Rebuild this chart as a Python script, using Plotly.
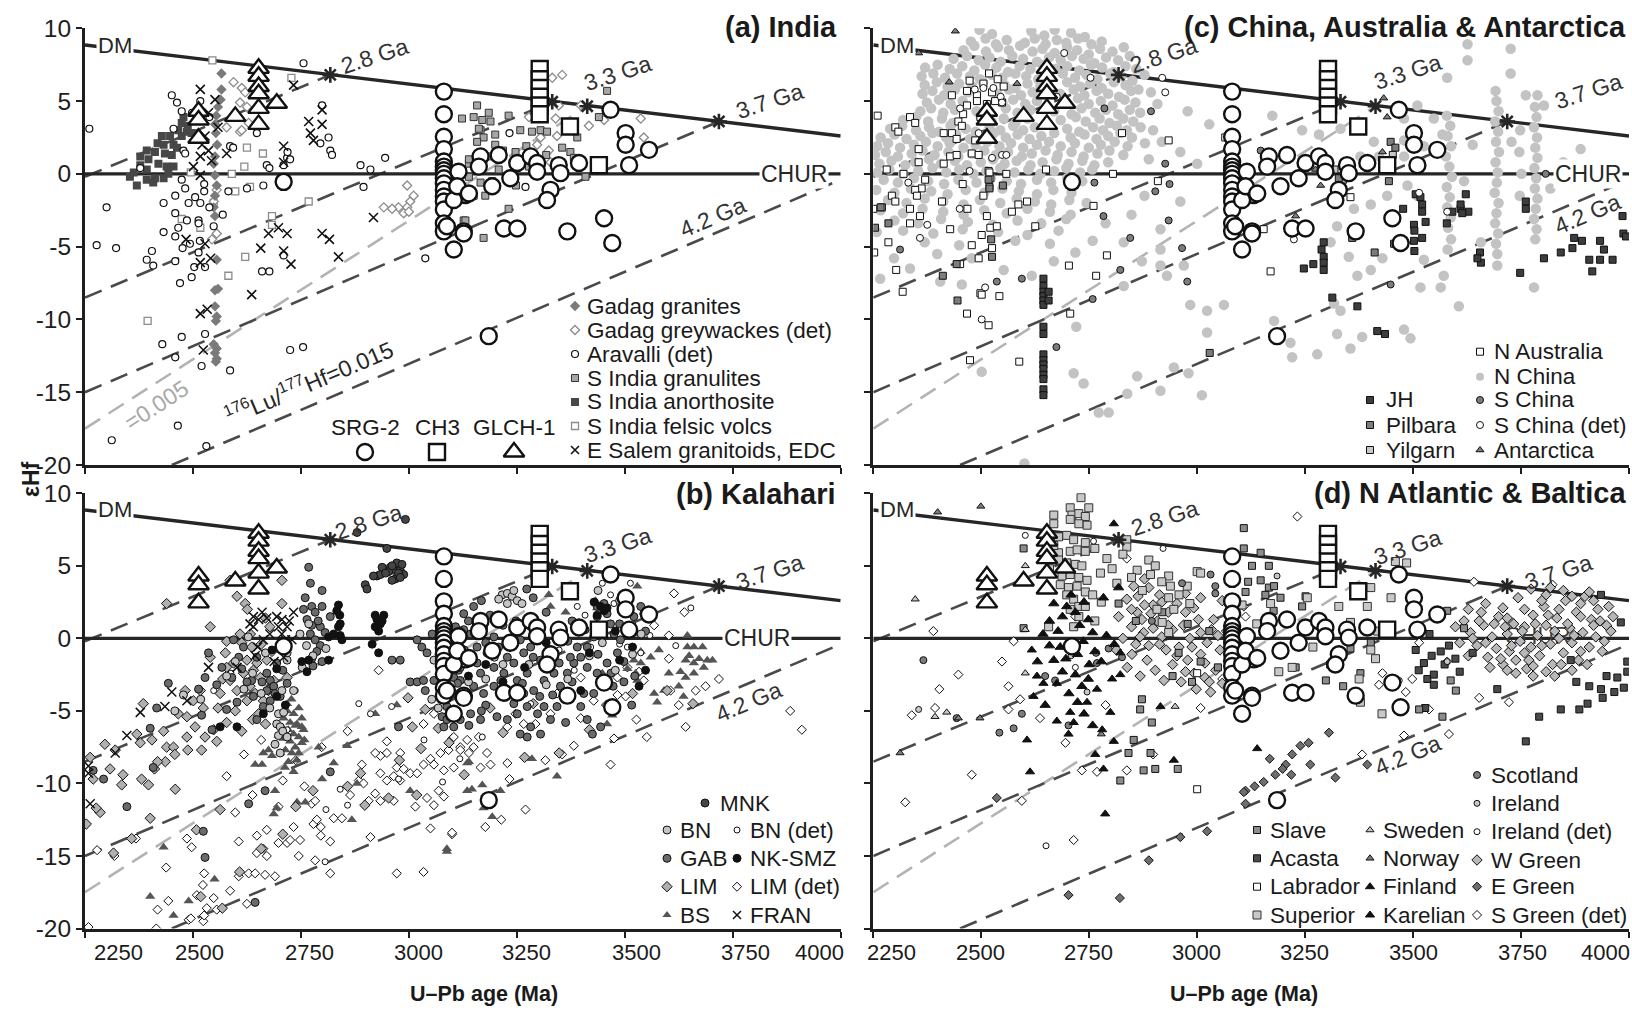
import plotly.graph_objects as go

W, H = 1632, 1012
FONT = "Liberation Sans, Arial, Helvetica, sans-serif"
NARROW = "Liberation Sans Narrow, Arial Narrow, Liberation Sans, Arial, sans-serif"
INK = "#1e1e1e"

# ---------------- axes / ticks ----------------
X_RANGE = [2232, 3982]
Y_RANGE = [-20, 10]
x_tick_vals = [2232, 2482, 2732, 2982, 3232, 3482, 3732, 3982]
x_tick_text = ["2250", "2500", "2750", "3000", "3250", "3500", "3750", "4000"]
x_label_pos_b = [2309, 2498, 2751, 3004, 3255, 3509, 3762, 3932]
x_label_pos_d = [2275, 2481, 2731, 2981, 3231, 3483, 3735, 3928]
y_tick_vals = [-20, -15, -10, -5, 0, 5, 10]
y_tick_text = ["-20", "-15", "-10", "-5", "0", "5", "10"]

# ---------------- reference evolution lines (age Ma, eHf) ----------------
dm_line = [(2232, 8.85), (3982, 2.6)]
chur_line = [(2232, 0.0), (3982, 0.0)]
crust_lines = {
    "2.8 Ga": [(2232, -0.2), (2800, 6.8)],
    "3.3 Ga": [(2232, -8.5), (3314, 4.95)],
    "3.7 Ga": [(2232, -15.0), (3700, 3.6)],
    "4.2 Ga": [(2433, -20.0), (3982, -0.4)],
}
low_luhf_line = [(2232, -17.5), (3395, 4.65)]
model_age_marks = [(2800, 6.8), (3314, 4.95), (3395, 4.65), (3700, 3.6)]

# ---------------- reference zircons (all panels) ----------------
srg2 = [(3063,5.65),(3063,4.1),(3063,2.55),(3063,1.7),(3063,0.85),(3063,0.5),(3063,0.25),(3063,0.0),
        (3063,-0.3),(3063,-0.65),(3063,-1.1),(3063,-1.55),(3063,-1.9),(3063,-2.45),(3063,-3.4),(3063,-3.95),
        (3097,0.15),(3113,-1.45),(3086,-5.2),(3109,-3.95),(3086,-1.8),(2692,-0.55),(3148,1.2),(3144,0.5),
        (3094,-0.85),(3121,-1.35),(3175,-0.85),(3190,1.3),(3233,0.75),(3217,-0.3),(3264,1.2),(3279,0.75),
        (3279,0.15),(3310,-1.1),(3302,-1.8),(3329,0.6),(3333,0.05),(3376,0.75),(3449,4.4),(3484,2.8),
        (3484,2.0),(3538,1.65),(3492,0.6),(3202,-3.75),(3233,-3.75),(3349,-3.95),(3434,-3.05),(3453,-4.75),
        (3109,-4.1),(3070,-3.6),(3167,-11.15)]
ch3 = [(3285,7.2),(3285,6.5),(3285,5.9),(3285,5.3),(3285,4.7),(3285,4.1),(3355,3.25),(3422,0.6)]
glch1 = [(2634,7.25),(2634,6.7),(2634,6.0),(2634,5.5),(2634,4.5),(2634,3.4),(2495,4.3),(2495,3.7),
         (2495,2.45),(2580,3.95),(2676,4.85)]

# ---------------- (a) India ----------------
gadag_granites = [(2548,6.9),(2548,5.8),(2546,5.1),(2540,4.6),(2536,4.0),(2533,3.4),(2535,2.8),(2538,2.0),
    (2533,1.2),(2530,0.7),(2533,-0.1),(2537,-0.8),(2533,-1.5),(2530,-2.3),(2533,-2.9),(2537,-5.9),(2533,-8.0),
    (2533,-9.1),(2537,-9.8),(2535,-10.1),(2537,-12.0),(2533,-12.3),(2537,-12.7),(2535,-12.9),(2530,-11.7),(2540,-7.9)]
gadag_greywackes = [(2576,6.3),(2595,5.9),(2603,5.6),(2591,4.9),(2607,4.6),(2611,3.5),(2591,2.9),(2537,-1.1),
    (2530,-1.9),(2537,-4.1),(2526,-4.5),(2978,-0.8),(2993,-1.5),(2985,-1.9),(2978,-2.3),(2958,-2.3),(2943,-2.4),
    (2924,-2.3),(2970,-2.7),(2982,-2.6),(3314,6.6),(3337,6.8),(3322,3.8),(3329,4.7),(3380,4.7),(3399,3.3),
    (3434,3.7),(3519,3.8),(3526,2.5),(3306,1.6),(3325,2.6),(3279,2.0),(3287,2.5),(3310,0.8),(3260,3.9),
    (2560,3.2),(2595,3.0)]
aravalli = [(2242,3.1),(2433,5.4),(2445,4.9),(2456,4.3),(2437,3.1),(2460,1.6),(2464,1.4),(2499,5.0),(2360,0.4),
    (2456,-0.4),(2464,-1.0),(2441,-1.5),(2414,-2.0),(2282,-2.3),(2472,-2.0),(2487,-1.6),(2499,-2.0),(2508,-1.2),
    (2508,-0.7),(2468,-3.2),(2495,-3.2),(2495,-3.4),(2441,-2.7),(2414,-4.0),(2441,-4.3),(2448,-3.7),(2458,-5.1),
    (2475,-4.8),(2495,-5.4),(2441,-6.0),(2387,-5.3),(2375,-5.9),(2390,-6.3),(2259,-4.9),(2304,-5.1),(2485,-6.4),
    (2510,-6.4),(2479,-7.1),(2452,-7.5),(2564,-1.2),(2551,-2.8),(2607,-1.0),(2645,-0.8),(2568,1.9),(2653,0.6),
    (2659,0.4),(2692,0.6),(2700,1.1),(2707,1.0),(2701,1.5),(2738,7.6),(2781,4.7),(2796,2.5),(2777,2.1),(2800,1.6),
    (2804,1.3),(2870,0.6),(2893,0.3),(2927,1.1),(2877,-0.9),(3020,-5.8),(2510,-11.0),(2456,-11.2),(2411,-11.7),
    (2441,-12.6),(2502,-13.2),(2568,-13.5),(2707,-12.1),(2737,-11.9),(2447,-17.3),(2294,-18.3),(2513,-18.7),
    (2642,-6.7),(2659,-6.7),(2692,-5.6),(2630,2.8),(3215,2.8),(3252,-0.9),(2480,4.2),(2520,3.9),(2575,1.8),
    (2498,-4.6),(2520,-2.3),(2530,-3.6)]
s_india_granulites = [(3105,3.8),(3140,4.7),(3132,3.9),(3152,3.7),(3167,4.2),(3171,3.6),(3148,3.0),(3182,2.7),
    (3155,2.5),(3182,2.0),(3213,4.0),(3240,3.0),(3267,2.9),(3287,3.0),(3302,2.9),(3229,1.5),(3254,1.9),(3337,1.8),
    (3356,1.5),(3372,2.5),(3364,1.1),(3441,5.7),(3422,3.9),(3391,-0.2),(3121,0.7),(3121,-0.2),(3148,-0.6),
    (3159,-1.5),(3132,-1.5),(3213,-2.4),(3109,-3.2),(3155,-4.4),(3144,3.1),(3167,1.2),(3121,1.0),(3117,-1.7),
    (3113,-3.2),(3190,0.3),(3200,1.6),(3140,2.2),(3175,-0.5),(3260,0.5),(3300,1.3),(3230,-0.8)]
s_india_anorthosite = [(2456,3.5),(2448,3.0),(2429,2.6),(2410,2.6),(2456,2.6),(2414,2.0),(2437,2.0),(2394,1.5),
    (2375,1.6),(2417,1.4),(2433,1.3),(2360,1.2),(2379,1.0),(2402,0.7),(2421,0.5),(2437,0.5),(2336,-0.2),
    (2352,-0.8),(2375,-0.4),(2394,-0.3),(2414,-0.3),(2375,0.3),(2468,2.9),(2479,2.8),(2360,0.6),(2345,0.1),
    (2400,2.1),(2445,1.8),(2425,0.0),(2390,-0.6),(2460,3.9),(2470,3.3)]
s_india_felsic = [(2527,7.8),(2710,6.6),(2607,1.8),(2644,1.4),(2601,0.5),(2572,0.0),(2477,0.1),(2580,-1.2),
    (2614,-0.9),(2750,-1.9),(2456,-3.1),(2499,-3.7),(2530,-2.0),(2665,-2.9),(2665,-3.5),(2603,-5.7),(2564,-7.0),
    (2377,-10.1)]
e_salem = [(2499,5.8),(2533,5.1),(2518,4.2),(2510,2.6),(2503,2.0),(2518,1.6),(2560,1.4),(2499,1.2),(2483,0.5),
    (2499,-0.1),(2692,1.9),(2715,6.1),(2750,3.6),(2754,2.8),(2761,2.3),(2781,4.4),(2781,3.4),(2692,0.8),
    (2639,-5.1),(2657,-4.1),(2680,-3.7),(2700,-4.1),(2692,-5.3),(2709,-6.2),(2781,-4.1),(2798,-4.5),(2819,-5.7),
    (2900,-3.0),(2618,-8.3),(2499,-9.6),(2515,-9.3),(2506,-12.1),(2510,-4.8),(2499,-6.1),(2523,-5.8),(2466,-4.5),
    (2525,0.9),(2540,3.2)]

# ---------------- (b) Kalahari ----------------
mnk = [(2862,7.3),(2974,8.2),(2931,6.2),(2908,4.3),(2916,4.4),(2920,4.9),(2939,4.9),(2947,4.7),(2954,5.2),
    (2962,4.7),(2966,5.1),(2970,4.4),(2951,4.1),(2943,4.0),(2935,4.6),(2958,4.5),(2928,4.5),(2881,3.7),
    (2885,3.4),(2900,4.3),(2943,5.0),(2962,4.2)]
bn = [(2688,-3.6),(2680,-5.2),(2676,-5.9),(2684,-6.1),(2684,-7.9),(2692,-5.1),(2715,-3.6),(2680,-6.7),
    (2690,-6.4),(2700,-6.8),(2672,-7.3),(2660,-4.8),(2640,-3.8),(2620,-2.4),(2600,-3.5),(2580,-1.6),(2560,-2.6),
    (2650,-1.0),(2610,0.1),(2700,-1.5),(2735,-2.0),(2745,-0.5),(2760,-1.2),(2790,-0.7),(2750,1.0),(2730,0.3),
    (3198,3.0),(3210,3.1),(3221,2.9),(3233,2.6),(3210,2.4),(3244,2.4),(3190,2.7),(3225,3.3),(3040,-1.5),
    (3055,-2.3),(3080,-3.2),(3120,-3.0),(3160,-2.8),(3200,-1.8),(3260,-1.8),(3300,-3.2),(3350,-2.8),(3400,-1.2),
    (3430,-0.3),(3460,-2.2),(3500,-1.1),(3520,0.3),(3470,2.6),(3420,3.3),(3380,0.7),(3320,0.5),(3290,0.0),
    (3180,-1.3),(3140,0.3),(3100,0.5),(3070,-0.6),(3035,-4.2),(3050,-4.8),(2460,-3.9),(2440,-5.0),(2500,-4.2),
    (2700,-1.0)]
bn_det = [(3430,3.8),(3495,3.8),(3372,2.2),(3449,3.0),(3457,2.4),(3635,2.1),(3488,-0.6),(3519,-1.0),(3403,-0.6),
    (3264,-4.5),(3152,-6.8),(2823,-10.4),(2788,-15.4),(2719,-3.6),(2866,-4.5),(2893,-5.2),(2958,-9.7),(2942,-4.7),
    (3017,-7.0),(3100,-8.3),(3060,-9.9),(2840,-11.5),(2790,-11.8),(2700,-6.3),(2570,-2.4),(2530,-3.6),(3500,1.0),
    (3540,0.2),(3470,-0.4),(3330,-0.8),(3390,1.6),(3600,-0.5),(3365,-2.2)]
gab = [(2750,4.9),(2754,3.8),(2781,3.3),(2742,2.8),(2757,2.2),(2765,1.8),(2781,2.2),(2746,1.3),(2757,0.9),
    (2777,0.8),(2754,0.3),(2765,-0.1),(2777,-0.5),(2769,-0.9),(2757,-1.4),(2781,-1.6),(2800,1.5),(2738,2.0),
    (2772,1.2),(2788,0.4),(2760,-1.9),(2943,-1.5),(2962,-1.5),(3001,-0.1),(3012,-0.6),(2985,-3.0),(3001,-3.0),
    (3016,-2.9),(3020,-3.6),(3040,-2.9),(3070,-2.9),(3086,-2.7),(3059,-5.4),(3070,-4.7),(3063,-6.1),(3086,-6.1),
    (3101,-5.6),(3121,-6.0),(3101,-2.9),(3097,-2.2),(3090,0.8),(3109,0.6),(3036,0.3),(3024,-1.0),(2958,-6.1),
    (2800,-9.2),(2649,-10.5),(2611,-11.4),(2506,-13.3),(2510,-15.1),(2626,-18.2),(2398,-4.8),(2425,-3.1),
    (2383,-6.2),(2390,-8.9),(2329,-11.6),(2275,-9.7),(2251,-9.1),(2518,-1.0),(2510,-2.7),(2495,-3.5),(2502,-5.3),
    (2526,-6.3),(2576,-0.1),(2588,-1.3),(2595,-2.1),(2618,-2.9),(2642,-3.0),(2653,-2.4),(2661,-2.9),(2669,-3.3),
    (2653,-3.6),(2672,-3.8),(2661,-4.3),(2645,-4.7),(2684,-4.0),(2630,-1.3),(2599,-0.6),(2676,-1.7),(2572,-2.7),
    (2549,-2.0),(2630,-5.6),(2607,-3.0),(2622,-4.0),(2584,-4.4),(2560,-4.9),(2537,-3.2),(2690,-2.2),(2700,-3.1),
    (3132,2.2),(3109,1.7),(3125,0.3),(3155,0.7),(3179,0.1),(3140,-0.6),(3163,-1.0),(3190,-0.6),(3210,-1.3),
    (3125,-1.5),(3101,-2.0),(3148,-2.4),(3179,-2.0),(3202,-2.4),(3225,-1.7),(3248,-1.0),(3264,-0.6),(3240,-0.1),
    (3233,-2.9),(3256,-2.4),(3287,-1.5),(3302,-1.0),(3318,-2.4),(3295,-2.9),(3271,-3.6),(3248,-3.8),(3210,-3.8),
    (3179,-3.3),(3155,-3.8),(3132,-3.3),(3109,-4.3),(3086,-3.8),(3094,-5.2),(3070,-5.6),(3125,-5.2),(3148,-5.6),
    (3186,-5.4),(3210,-5.6),(3233,-5.2),(3256,-4.7),(3264,-6.1),(3240,-6.6),(3295,-4.7),(3333,-3.3),(3349,-2.4),
    (3364,-1.7),(3380,-1.3),(3395,-0.6),(3410,0.1),(3426,0.8),(3418,1.5),(3441,1.7),(3449,1.0),(3457,0.3),
    (3418,2.2),(3434,2.4),(3372,-0.6),(3356,-1.3),(3395,-2.0),(3418,-2.4),(3441,-1.7),(3465,-1.0),(3472,-0.1),
    (3488,0.8),(3503,1.5),(3519,2.2),(3526,1.7),(3410,-3.8),(3387,-3.8),(3380,-4.7),(3325,-4.7),(3310,-5.6),
    (3287,-6.6),(3256,-6.8),(3426,-6.1),(3407,-6.6),(3395,-5.6),(3498,-4.6),(3480,-3.0),(3455,-3.3),(3340,0.5),
    (3360,1.2),(3300,1.8),(3270,2.8),(3255,3.4),(3230,1.2),(3200,0.9),(3170,1.6),(3150,2.6),(3110,-0.8),
    (3085,-1.5),(3330,-1.7),(3345,-5.8),(3280,-5.2),(3225,-4.5),(3160,-4.6),(3120,-4.0),(3140,-1.7),(3195,-2.9),
    (3245,-3.1),(3285,-4.0),(3315,-3.9),(3360,-3.0),(3420,-1.1),(3450,-2.4),(3480,-1.6),(3505,-2.6),(3530,0.5),
    (3470,1.0),(3390,0.6),(3350,-0.2),(3270,-1.3),(3215,-0.4),(3160,-0.3),(3120,1.2),(3095,-3.1),(3150,-5.0)]
nk_smz = [(2819,2.3),(2822,1.6),(2823,1.0),(2819,0.8),(2823,0.2),(2827,-0.1),(2796,0.1),(2808,0.3),(2904,1.6),
    (2908,1.3),(2916,1.0),(2924,1.6),(2904,0.8),(2912,0.5),(2897,-0.4),(2912,-1.0),(2796,-1.5),(2746,-2.3),
    (2734,-1.6),(2665,-0.8),(2676,-2.1),(2645,-5.2),(2584,-6.1),(2545,-6.1),(2750,-1.5),(2815,1.9),(2920,1.2),
    (3426,2.2),(3434,1.9),(3441,2.1),(3515,-3.3),(3418,1.6),(3411,2.5),(2676,-4.0),(2696,-4.6),(3400,-1.0),
    (3440,-3.0),(3470,-1.5),(3380,-3.6),(3300,-0.3),(3250,-2.0),(3160,-1.8),(3120,-2.6),(3080,-1.0),(3200,-3.0),
    (3350,-4.0),(3460,0.5),(3500,-0.6),(3530,-2.2)]
lim = [(2244,-8.2),(2251,-9.7),(2267,-12.0),(2278,-7.3),(2302,-7.7),(2298,-14.8),(2317,-10.1),(2340,-13.8),
    (2352,-6.6),(2363,-9.7),(2367,-4.5),(2379,-10.1),(2383,-12.4),(2387,-7.0),(2393,-9.0),(2414,-6.4),(2418,-8.5),
    (2421,-7.5),(2437,-7.5),(2441,-10.4),(2448,-5.2),(2464,-3.6),(2468,-5.4),(2468,-6.8),(2483,-4.3),(2487,-6.1),
    (2499,-3.6),(2502,-7.7),(2506,-4.8),(2522,0.8),(2522,-1.3),(2530,-6.3),(2537,-7.1),(2545,-3.8),(2545,-11.8),
    (2551,-2.8),(2557,-1.0),(2560,-2.0),(2568,-2.9),(2576,-1.7),(2584,2.9),(2584,-3.6),(2591,0.3),(2599,-2.4),
    (2603,2.4),(2607,-1.5),(2607,-4.3),(2614,-3.3),(2618,-0.6),(2622,-2.2),(2626,-3.8),(2630,-1.7),(2634,-5.2),
    (2638,-2.7),(2645,-4.3),(2653,-1.5),(2657,-3.6),(2669,-2.9),(2688,4.0),(2688,2.4),(2700,-2.7),(2568,4.0),
    (2421,2.4),(2560,-0.2),(2595,-0.3),(2615,0.3),(2640,-0.4),(2665,-0.9),(2580,-5.0),(2620,-5.6),(2650,-5.9),
    (2595,-6.4),(2560,-5.8),(2540,-4.8),(2510,-6.8),(2470,-7.7),(2440,-8.0),(2400,-8.5),(2360,-7.2),(2320,-9.4),
    (2290,-9.0),(2258,-11.7),(2235,-12.8),(2490,-13.2),(2500,-17.8),(2550,-18.6),(2590,-16.1),(2640,-14.5),
    (2690,-13.5),(2720,-11.6),(2760,-10.5),(2840,-10.2),(2870,-9.3),(2960,-8.4),(3010,-7.6),(3050,-6.2),
    (3000,-10.8),(2935,-11.0),(2880,-11.5),(2980,-4.1),(2990,-6.1),(3020,-4.9),(3075,-7.2),(3110,-9.4),
    (3270,-4.5),(3330,-7.9),(3440,-4.6),(3400,-6.3),(3500,-3.8),(3580,-3.6),(3640,-4.5),(3250,-8.2),(3200,-6.5),
    (3170,-4.8),(2608,2.0),(2650,1.4),(2660,0.8)]
lim_det = [(2240,-19.9),(2397,-20.0),(2400,-18.7),(2425,-18.1),(2472,-19.4),(2477,-19.3),(2506,-19.5),
    (2508,-19.1),(2514,-18.6),(2491,-17.7),(2505,-17.0),(2508,-16.2),(2479,-14.4),(2468,-13.8),(2530,-17.9),
    (2537,-18.7),(2588,-14.0),(2568,-17.4),(2588,-16.4),(2607,-18.3),(2611,-16.2),(2626,-16.2),(2649,-16.3),
    (2672,-16.4),(2630,-13.6),(2653,-13.2),(2653,-15.0),(2645,-14.5),(2630,-14.8),(2680,-14.1),(2700,-14.1),
    (2715,-13.0),(2727,-15.0),(2730,-13.9),(2707,-13.9),(2757,-11.4),(2765,-11.2),(2761,-12.8),(2769,-12.5),
    (2778,-13.0),(2778,-13.6),(2800,-14.0),(2800,-16.2),(2765,-15.3),(2808,-12.4),(2827,-12.4),(2846,-10.8),
    (2866,-9.8),(2873,-8.7),(2877,-10.0),(2889,-11.2),(2893,-13.7),(2904,-10.7),(2916,-9.3),(2916,-11.2),
    (2931,-9.8),(2947,-9.5),(2947,-11.2),(2954,-8.9),(2962,-7.9),(2962,-9.8),(2970,-9.0),(2985,-9.3),
    (2954,-16.2),(3016,-16.1),(2997,-11.6),(3024,-11.0),(3032,-13.1),(3082,-13.5),(3040,-11.5),(3051,-10.5),
    (3063,-10.9),(3001,-9.3),(3016,-8.7),(3032,-8.3),(3040,-8.7),(3055,-7.9),(3063,-9.1),(3074,-7.7),
    (3082,-6.9),(3117,-7.0),(3101,-7.5),(2931,-7.9),(2931,-7.1),(2916,-8.1),(2904,-7.9),(3016,-5.9),
    (3040,-5.2),(2912,-2.2),(3596,3.1),(3584,0.2),(3584,-1.4),(3588,-3.6),(3607,-4.6),(3623,-6.1),(3669,-3.3),
    (3646,-3.6),(3865,-5.0),(3892,-6.3),(3533,-6.8),(3509,-5.6),(3449,-8.7),(3457,-6.9),(3364,-7.4),
    (3337,-8.0),(3298,-8.4),(3252,-11.8),(3215,-9.7),(3196,-12.5),(3159,-13.0),(3082,-13.4),(3210,-8.6),
    (3148,-8.9),(3171,-8.7),(3163,-7.9),(3132,-7.5),(3144,-6.8),(3121,-7.9),(3086,-6.8),(3086,-8.9),
    (3101,-7.7),(3210,-6.1),(3248,-5.9),(3229,-5.2),(3275,-5.9),(3310,-5.2),(3325,-3.8),(3380,-5.5),
    (3410,-4.3),(3465,-3.9),(3484,-4.0),(3380,-2.7),(3465,-2.7),(3488,-2.0),(3515,-2.3),(3526,-2.9),
    (2560,-9.5),(2600,-8.0),(2640,-7.0),(2690,-9.8),(2720,-8.4),(2780,-7.5),(2840,-6.4),(2350,-13.8),
    (2300,-15.0),(2260,-14.6),(2420,-15.8),(2580,-12.0),(2620,-10.8),(2680,-11.6),(2740,-10.2),(3550,0.9),
    (3620,1.8),(3700,-2.8)]
bs = [(2414,-14.4),(2383,-17.8),(2437,-19.1),(2472,-18.1),(2532,-16.6),(2645,-7.9),(2626,-8.7),(2642,-8.7),
    (2672,-10.5),(2669,-12.1),(2676,-11.7),(2723,-11.3),(2742,-11.3),(2773,-7.5),(2781,-9.7),(2808,-8.6),
    (2839,-7.4),(2850,-12.5),(2862,-10.0),(2904,-5.2),(2985,-10.5),(3070,-14.5),(2954,-4.6),(3117,-8.6),
    (3117,-10.5),(2700,-5.0),(2715,-5.2),(2727,-4.8),(2692,-5.5),(2707,-5.8),(2723,-5.9),(2734,-6.1),
    (2688,-6.1),(2703,-6.3),(2715,-6.6),(2727,-6.8),(2692,-6.9),(2707,-7.1),(2719,-7.5),(2734,-7.2),
    (2696,-7.7),(2711,-7.9),(2727,-7.9),(2703,-8.5),(2715,-9.2),(2684,-7.9),(2734,-5.5),(2738,-6.3),
    (2680,-6.7),(2700,-4.5),(2719,-6.0),(2665,-8.1),(2657,-7.7),(2710,-4.2),(2695,-8.9),(2722,-8.4),
    (2740,-7.0),(3306,3.0),(3310,2.2),(3345,1.8),(3414,2.6),(3418,2.1),(3511,3.6),(3507,0.3),(3503,-1.5),
    (3507,-2.4),(3519,-1.7),(3542,-1.3),(3561,-0.8),(3550,-3.8),(3557,-4.4),(3573,-3.6),(3584,-2.4),
    (3607,-3.3),(3611,-2.3),(3623,-1.5),(3627,0.2),(3627,-0.6),(3631,-1.2),(3642,-0.6),(3642,-1.7),
    (3654,-1.4),(3662,-0.6),(3665,-2.0),(3673,-1.5),(3685,-1.5),(3623,-2.7),(3642,-2.4),(3618,-4.0),
    (3441,-5.9),(3267,-8.3),(3325,-9.5),(3453,-5.3),(3445,-4.5),(3430,-2.4),(3488,-2.1),(3511,-2.9),
    (3519,-0.9),(3121,-8.5),(3152,-10.1),(3128,-10.4),(3194,-10.5),(3175,-12.3),(3155,-11.7),(3070,-14.7)]
fran = [(2244,-11.4),(2302,-7.9),(2329,-6.7),(2360,-5.1),(2417,-4.7),(2433,-3.7),(2468,-4.3),(2518,-2.0),
    (2614,1.0),(2622,1.5),(2634,1.3),(2642,1.8),(2653,1.4),(2676,1.5),(2688,1.3),(2715,1.8),(2622,0.8),
    (2645,-0.1),(2680,0.8),(2700,0.8),(2688,0.3),(2696,-0.1),(2711,-0.1),(2692,-1.3),(2626,-1.2),(2584,-2.0),
    (2240,-8.8),(2240,-9.3),(2660,0.3),(2632,-0.6),(2705,1.2),(2670,-1.6)]

# ---------------- (c) China, Australia & Antarctica ----------------
jh = [(2626,-7.2),(2626,-7.7),(2626,-8.1),(2626,-8.4),(2626,-8.7),(2626,-9.0),(2626,-10.5),(2626,-11.0),
    (2626,-12.4),(2626,-12.8),(2626,-13.1),(2626,-13.4),(2626,-13.8),(2626,-14.1),(2626,-14.8),(2626,-15.2),
    (2638,-8.1),(2638,-8.7),(3275,-4.7),(3275,-5.7),(3275,-6.1),(3275,-6.6),(3229,-6.5),(3251,-6.2),(3295,-8.5),
    (3353,-9.1),(3399,-10.8),(3417,-11.0),(3488,-1.4),(3499,-1.6),(3503,-2.1),(3503,-2.6),(3484,-3.5),
    (3485,-3.9),(3503,-4.4),(3484,-4.6),(3485,-5.3),(3459,-2.4),(3511,-3.3),(3560,-3.4),(3573,-2.6),(3592,-2.4),
    (3604,-1.4),(3592,-2.1),(3610,-2.6),(3596,-2.7),(3637,-5.4),(3639,-6.1),(3631,-5.8),(3730,-6.8),(3743,-1.9),
    (3743,-2.4),(3785,-5.8),(3824,-5.4),(3855,-4.4),(3851,-5.1),(3873,-4.6),(3890,-5.9),(3897,-6.7),(3915,-4.6),
    (3915,-5.9),(3924,-5.2),(3944,-5.9),(3967,-2.9),(3969,-4.1),(3975,-4.3),(3270,-5.2)]
pilbara = [(2236,-3.7),(2267,-3.4),(2249,-2.3),(2393,-7.0),(2427,-8.7),(2507,-5.7),(2532,-0.8),(2499,-0.4),
    (2501,-1.0),(2425,-6.2),(3011,-12.3),(3430,2.2),(3441,1.8),(3426,-0.5),(3310,-0.3),(3341,-4.4),(3393,-5.4),
    (3438,-4.8),(2505,-4.5)]
yilgarn = [(3320,-0.4),(3300,0.3),(3435,1.3)]
n_australia = [(2242,4.0),(2283,3.2),(2290,2.9),(2317,3.9),(2329,3.5),(2337,1.7),(2337,0.8),(2263,0.3),(2302,0.0),
    (2352,-0.4),(2344,-1.0),(2329,-1.1),(2333,-1.5),(2275,-1.5),(2283,-1.9),(2232,-2.4),(2252,-2.3),(2317,-2.4),
    (2340,-2.9),(2317,-3.4),(2267,-4.7),(2234,-5.4),(2285,-6.6),(2300,-8.1),(2395,2.8),(2414,2.8),(2425,2.4),
    (2429,3.6),(2437,3.3),(2414,5.4),(2449,5.7),(2472,5.4),(2487,6.2),(2507,5.6),(2534,6.0),(2530,4.9),
    (2514,5.0),(2495,4.8),(2472,5.0),(2449,4.7),(2410,1.2),(2425,1.3),(2395,0.7),(2460,1.4),(2476,1.3),
    (2468,2.3),(2499,0.2),(2503,-0.3),(2501,-0.9),(2487,-1.5),(2439,-0.7),(2391,-1.9),(2450,-2.4),(2495,-2.9),
    (2410,-3.8),(2483,-4.2),(2503,-3.7),(2518,-3.6),(2460,-4.9),(2507,-5.1),(2476,-5.8),(2433,-6.2),(2480,-8.2),
    (2483,-8.3),(2524,-8.4),(2449,-9.6),(2499,-10.4),(2456,-12.8),(2570,-12.9),(2501,0.1),(2540,0.0),
    (2553,-2.6),(2568,-2.1),(2588,-1.9),(2607,-3.6),(2632,0.3),(2685,-6.3),(2688,-9.6),(2742,-2.2),(2773,-5.6),
    (2748,-7.0),(2787,0.0),(2808,2.8),(2891,-0.5),(2916,2.3),(3047,2.5),(3337,-1.6),(3136,-3.8),(3152,-6.7),
    (2455,6.4),(2500,6.9),(2520,6.5),(2440,4.1),(2480,3.9)]
n_china = [
    (2478,9.9),(2507,9.6),(2598,9.8),(2628,9.5),(2652,9.9),(2690,9.7),(2722,9.4),
    (2458,9.1),(2492,9.3),(2516,8.9),(2541,9.2),(2583,9.0),(2606,9.3),(2631,8.9),(2657,9.2),(2679,9.0),
    (2706,9.3),(2737,8.9),(2761,9.1),
    (2441,8.5),(2466,8.8),(2493,8.4),(2521,8.7),(2546,8.5),(2572,8.8),(2601,8.4),(2624,8.6),(2652,8.3),
    (2681,8.7),(2704,8.5),(2731,8.2),(2757,8.6),(2786,8.4),(2812,8.7),
    (2418,7.9),(2449,8.1),(2476,7.8),(2501,8.0),(2527,7.7),(2554,8.1),(2579,7.9),(2611,7.7),(2639,8.0),
    (2666,7.8),(2692,8.1),(2719,7.9),(2744,7.6),(2771,8.0),(2799,7.8),(2826,8.1),
    (2352,7.3),(2381,7.5),(2409,7.2),(2438,7.4),(2466,7.1),(2491,7.5),(2517,7.3),(2544,7.0),(2571,7.4),
    (2596,7.2),(2626,7.5),(2654,7.2),(2681,7.4),(2709,7.1),(2736,7.5),(2762,7.3),(2789,7.0),(2816,7.4),
    (2841,7.2),
    (2344,6.7),(2371,6.9),(2398,6.6),(2426,6.9),(2456,6.7),(2479,6.5),(2506,6.8),(2531,6.6),(2561,6.9),
    (2586,6.7),(2614,6.5),(2671,6.9),(2699,6.6),(2726,6.8),(2751,6.5),(2781,6.9),(2806,6.7),(2832,6.4),
    (2351,6.1),(2379,6.3),(2404,6.0),(2431,6.2),(2461,6.0),(2486,6.3),(2536,6.1),(2561,5.9),(2589,6.2),
    (2619,6.0),(2681,6.3),(2711,6.0),(2734,6.2),(2761,5.9),(2789,6.3),(2816,6.1),(2846,5.8),
    (2346,5.5),(2369,5.7),(2396,5.4),(2421,5.8),(2451,5.6),(2519,5.5),(2546,5.8),(2574,5.4),(2601,5.6),
    (2664,5.5),(2696,5.8),(2721,5.4),(2749,5.7),(2776,5.5),(2801,5.3),(2829,5.7),
    (2356,4.9),(2384,5.1),(2411,4.8),(2439,5.0),(2531,4.9),(2556,5.1),(2584,4.8),(2611,5.0),(2679,4.9),
    (2706,5.2),(2731,4.8),(2759,5.0),(2786,4.7),(2814,5.1),(2839,4.9),
    (2341,4.3),(2366,4.5),(2394,4.2),(2421,4.4),(2471,4.3),(2539,4.5),(2566,4.2),(2596,4.4),(2651,4.3),
    (2691,4.1),(2714,4.5),(2746,4.2),(2771,4.4),(2799,4.1),(2826,4.4),(2850,4.2),
    (2301,3.7),(2331,3.9),(2359,3.6),(2391,3.8),(2416,3.5),(2481,3.9),(2506,3.6),(2534,3.8),(2561,3.5),
    (2589,3.8),(2666,3.7),(2701,3.9),(2724,3.6),(2756,3.8),(2779,3.5),(2811,3.8),(2834,3.6),
    (2271,3.1),(2299,3.3),(2331,3.0),(2361,3.2),(2384,2.9),(2411,3.3),(2446,3.1),(2469,2.9),(2501,3.2),
    (2526,3.0),(2556,3.3),(2579,3.0),(2606,3.2),(2681,3.1),(2709,2.9),(2741,3.2),(2764,3.0),(2796,3.3),
    (2819,3.0),(2851,3.2),
    (2249,2.5),(2281,2.7),(2309,2.4),(2341,2.6),(2369,2.8),(2401,2.5),(2424,2.7),(2456,2.4),(2479,2.6),
    (2511,2.8),(2539,2.5),(2566,2.7),(2594,2.4),(2621,2.6),(2651,2.8),(2689,2.5),(2721,2.7),(2749,2.4),
    (2776,2.6),(2804,2.8),(2831,2.5),
    (2241,1.9),(2266,2.1),(2294,1.8),(2326,2.0),(2354,2.2),(2381,1.9),(2409,2.1),(2441,1.8),(2469,2.0),
    (2496,2.2),(2524,1.9),(2551,2.1),(2579,1.8),(2611,2.0),(2639,2.2),(2666,1.9),(2699,2.1),(2731,1.8),
    (2759,2.0),(2791,2.2),(2821,1.9),(2861,2.1),
    (2236,1.3),(2261,1.5),(2289,1.2),(2321,1.4),(2346,1.6),(2374,1.3),(2406,1.5),(2429,1.2),(2461,1.4),
    (2489,1.6),(2516,1.3),(2544,1.5),(2576,1.2),(2599,1.4),(2631,1.6),(2659,1.3),(2691,1.5),(2719,1.2),
    (2751,1.4),(2779,1.6),(2811,1.3),
    (2246,0.7),(2274,0.9),(2306,0.6),(2329,0.8),(2361,1.0),(2389,0.7),(2421,0.9),(2449,0.6),(2481,0.8),
    (2509,1.0),(2536,0.7),(2564,0.9),(2596,0.6),(2624,0.8),(2656,1.0),(2684,0.7),(2716,0.9),(2744,0.6),
    (2776,0.8),
    (2241,0.1),(2269,0.3),(2301,0.0),(2336,0.2),(2369,0.4),(2401,0.1),(2431,0.3),(2464,0.0),(2494,0.2),
    (2526,0.4),(2559,0.1),(2591,0.3),(2619,0.0),(2651,0.2),(2679,0.4),(2711,0.1),(2739,0.3),
    (2256,-0.4),(2289,-0.6),(2326,-0.3),(2359,-0.5),(2396,-0.7),(2429,-0.4),(2471,-0.6),(2504,-0.3),
    (2541,-0.5),(2574,-0.7),(2611,-0.4),(2644,-0.6),(2681,-0.3),(2716,-0.5),
    (2239,-1.1),(2281,-1.3),(2319,-1.0),(2366,-1.2),(2404,-1.4),(2446,-1.1),(2489,-1.3),(2531,-1.0),
    (2569,-1.2),(2611,-1.4),(2649,-1.1),(2691,-1.3),
    (2266,-1.8),(2309,-2.0),(2351,-1.7),(2394,-1.9),(2441,-2.1),(2479,-1.8),(2526,-2.0),(2564,-1.7),
    (2606,-1.9),(2644,-2.1),(2686,-1.8),(2726,-2.0),
    (2249,-2.5),(2301,-2.7),(2346,-2.4),(2394,-2.6),(2441,-2.8),(2489,-2.5),(2541,-2.7),(2589,-2.4),
    (2641,-2.6),(2689,-2.8),
    (2281,-3.2),(2336,-3.4),(2389,-3.1),(2451,-3.3),(2509,-3.5),(2566,-3.2),(2621,-3.4),(2679,-3.1),
    (2301,-3.9),(2371,-4.1),(2439,-3.8),(2521,-4.0),(2589,-4.2),(2661,-3.9),
    (2351,-4.7),(2431,-4.9),(2561,-4.6),(2641,-4.8),
    (2582,-19.9),(2248,-7.2),(2317,-6.5),(2387,-7.4),(2437,-7.6),(2483,-13.6),(2534,-6.6),(2599,-7.0),
    (2696,-13.7),(2719,-14.4),(2754,-16.4),(2777,-16.4),(2820,-15.1),(2843,-13.9),(2897,-14.9),(2928,-13.3),
    (2962,-13.7),(2993,-15.2),(3005,-10.9),(3005,-9.4),(2966,-9.0),(3044,-9.0),(2702,-10.5),(2812,-7.7),
    (2812,-4.7),(2854,-6.0),(2897,-3.8),(2897,-5.2),(2897,-6.3),(2912,-7.0),(2951,-6.3),(2943,-1.9),
    (2982,0.7),(2943,1.5),(2880,3.0),(2900,2.2),(2870,1.0),(2860,-1.5),(2830,-2.8),(2770,-3.4),(2740,-4.6),
    (2700,-5.4),(2650,-6.0),(2460,-5.8),(2380,-5.5),(2280,-5.8),(2240,-4.0),(2860,6.8),(2875,5.6),(2890,4.8),
    (2960,4.3),(3010,3.4),
    (3608,8.9),(3708,8.6),(3608,7.8),(3561,6.6),(3673,5.7),(3708,6.9),(3743,5.4),(3770,5.4),(3785,4.7),
    (3870,1.7),(3156,4.0),(3264,2.7),(3225,3.0),(3187,1.0),(3291,4.0),(3314,3.1),(3360,1.2),(3391,2.2),
    (3403,1.2),(3461,2.3),(3461,1.2),(3507,1.9),(3530,3.8),(3492,4.7),(3461,3.8),(3550,2.7),(3492,-1.5),
    (3469,-0.8),(3422,-1.5),(3384,-2.1),(3345,-2.4),(3306,-3.6),(3291,-4.7),(3333,-5.7),(3353,-7.0),
    (3384,-6.6),(3411,-5.8),(3299,-8.9),(3314,-9.4),(3160,-10.1),(3198,-11.6),(3202,-12.6),(3260,-12.4),
    (3306,-11.0),(3337,-12.0),(3364,-11.2),(3461,-10.7),(3476,-11.3),(3499,-7.8),(3507,-5.9),(3546,-7.8),
    (3553,-7.0),(3588,-9.1),(3639,-4.7),(3677,-6.3),(3762,-7.8),
    (3560,4.0),(3568,3.3),(3562,2.6),(3570,1.9),(3558,1.2),(3566,0.5),(3572,-0.2),(3560,-0.9),(3567,-1.6),
    (3561,-2.3),(3569,-3.0),(3563,-3.7),(3570,-4.5),(3562,-5.2),
    (3675,5.0),(3680,4.3),(3672,3.6),(3679,2.9),(3674,2.2),(3681,1.5),(3673,0.8),(3678,0.1),(3676,-0.6),
    (3671,-1.3),(3680,-2.0),(3675,-2.7),(3672,-3.4),(3679,-4.1),(3674,-4.8),(3677,-5.5),
    (3764,4.6),(3768,3.9),(3762,3.2),(3769,2.5),(3765,1.8),(3770,1.1),(3763,0.4),(3767,-0.3),(3764,-1.0),
    (3770,-1.7),(3766,-2.4),(3762,-3.1),(3768,-3.8),(3765,-4.5),
    (3730,3.0),(3728,1.5),(3733,0.0),(3729,-1.5),(3620,2.0),(3600,-0.5),(3710,2.2),(3800,-1.0),(3830,0.8)]
s_china = [(2767,4.5),(2875,4.3),(2908,0.7),(2918,-0.7),(2885,-1.2),(2916,-3.2),(2744,-0.6),(2765,-2.9),
    (2827,-4.4),(2947,-5.1),(2804,-6.6),(2959,-7.4),(2740,-8.6),(2656,-11.9),(2576,-7.2),(2518,-7.4),
    (2294,-5.2),(3129,1.6),(3789,0.0),(3430,-7.6)]
s_china_det = [(2674,8.3),(2735,6.6),(2901,6.6),(2908,5.6),(2657,5.3),(2467,5.8),(2487,5.9),(2510,5.9),
    (2527,5.3),(2530,4.9),(2433,4.5),(2476,2.8),(2507,1.1),(2530,1.3),(2540,1.3),(2455,0.2),(2313,-0.6),
    (2357,-3.5),(2340,-4.4),(2432,-2.4),(2491,-7.8),(2483,-10.0),(3206,-4.5),(3465,-4.7),(3496,-1.3),(3561,-2.6)]
antarctica = [(2337,8.3),(2422,9.8),(2408,6.3),(2565,6.2),(3414,5.2),(3422,3.9),(3411,1.5),(3268,-0.8),
    (3256,0.3),(3210,-2.9),(3271,-0.1)]

# ---------------- (d) N Atlantic & Baltica ----------------
slave = [(2580,6.2),(2580,0.7),(2901,1.8),(2939,-1.0),(2854,-4.2),(2850,-4.9),(2877,-5.8),(2835,-7.0),
    (2823,-7.9),(2874,-7.9),(2858,-9.1),(2885,-9.0),(2804,-9.8),(2937,-9.0),(3090,7.6),(3090,6.2),(3129,5.9),
    (3148,5.0),(3109,5.0),(3129,4.0),(3148,3.5),(3094,3.2),(3140,3.0),(3175,2.8),(3225,2.2),(3233,2.9),
    (3159,1.9),(3210,-2.0),(3337,-0.7),(3360,-2.4),(3384,-0.3),(3561,1.9),(3600,0.7),(3569,-2.9),(3581,-3.6),
    (3496,-4.9),(3550,-5.4),(2990,-1.6),(3010,0.5),(2960,1.0),(2925,-2.6),(2970,-3.0),(3030,-2.0),(2840,1.2),
    (2800,2.4),(3100,3.9),(3160,3.6),(3280,-2.9),(3290,-1.8),(3320,-3.3)]
acasta = [(3488,-0.8),(3507,-1.7),(3515,-2.8),(3546,-0.9),(3677,-3.5),(3743,-7.1),(3774,-5.4),(3824,-4.9),
    (3867,-4.9),(3886,-4.5),(3890,-3.3),(3917,-3.5),(3921,-4.1),(3948,-3.7),(3955,-2.7),(3978,-1.6),
    (3978,-2.3),(3963,1.1),(3917,3.0),(3847,-1.5),(3495,-2.2),(3525,-1.2),(3530,-2.5),(3555,-1.8),(3565,-0.5),
    (3580,-1.4),(3590,-2.3),(3530,-3.2),(3510,-4.8),(3620,-1.0),(3520,0.3),(3860,-3.0),(3930,-2.6),(3970,-3.4)]
labrador = [(2982,-10.4),(2982,-2.4)]
superior = [(2713,9.7),(2731,9.0),(2650,8.5),(2688,9.0),(2692,8.5),(2708,8.6),(2723,8.4),(2727,7.8),(2708,7.9),
    (2688,8.2),(2650,7.9),(2661,7.0),(2680,7.1),(2696,6.8),(2723,6.6),(2661,5.9),(2688,6.0),(2704,6.1),
    (2723,6.0),(2661,5.4),(2680,5.2),(2700,5.1),(2715,5.0),(2669,4.3),(2688,4.4),(2708,4.2),(2727,4.0),
    (2665,3.7),(2684,3.5),(2704,3.6),(2723,3.2),(2680,3.0),(2696,2.7),(2708,2.2),(2723,2.2),(2688,2.0),
    (2708,1.5),(2696,0.8),(2638,0.8),(2758,4.5),(2773,5.5),(2785,4.8),(2819,6.8),(2819,6.3),(2843,4.7),
    (2870,5.4),(2874,4.4),(2885,5.0),(2916,4.3),(2920,3.6),(2982,4.6),(2990,4.5),(2796,3.8),(2916,2.8),
    (2928,2.0),(2959,3.6),(2889,2.0),(2901,1.1),(2916,0.4),(2650,6.4),(2640,4.8),(2745,6.2),(2740,3.0),
    (2745,1.2),(2810,5.8),(2830,4.2),(2855,3.3),(2900,3.9),(2940,3.0),(2965,2.4),(2760,2.5),(3086,2.3),
    (3152,2.4),(3237,2.8),(3202,-2.0),(3171,-2.3),(3441,5.3),(3467,5.2),(3384,3.5),(3376,2.2),(3431,2.8),
    (3337,1.1),(3384,-0.8),(3395,-1.4),(3357,-2.8),(3310,2.2),(3400,0.5),(3360,-4.4),(3410,-5.2),(3120,1.0),
    (3250,-0.6)]
sweden = [(2329,2.7),(2375,-5.4),(2402,-5.1),(2584,5.0),(2584,0.6),(2584,-2.4),(2931,-4.7)]
norway = [(2381,8.7),(2481,9.1),(2429,-5.5),(2479,-5.5),(2294,-7.9),(2760,-6.6)]
finland = [(2599,-0.8),(2611,-2.6),(2626,-3.1),(2657,-3.1),(2603,-4.0),(2688,-5.1),(2696,-5.8),(2684,-6.6),
    (2657,-5.7),(2588,-7.0),(2595,-9.2),(2746,-8.0),(2765,-9.0),(2769,-12.1),(2789,-7.1),(2762,-6.3),
    (2781,-5.1),(2804,-1.0),(2785,-2.8),(2804,-2.5),(2750,-3.5),(2727,-4.4),(2789,7.9),(2897,-4.7),
    (2928,-8.4),(3121,-7.6)]
karelian = [(2660,0.5),(2670,1.5),(2680,2.2),(2690,3.0),(2700,1.8),(2710,0.9),(2720,2.5),(2730,1.3),(2740,0.4),
    (2665,-0.6),(2678,-1.4),(2692,-0.3),(2705,-1.1),(2718,-0.2),(2732,-1.8),(2745,-0.9),(2650,-1.5),(2640,-0.5),
    (2625,0.3),(2612,-1.6),(2700,-2.5),(2715,-3.3),(2730,-2.8),(2685,-3.8),(2670,-2.3),(2760,-1.6),(2772,0.2),
    (2790,-0.4),(2800,3.5),(2765,2.8),(2650,2.4),(2640,1.2),(2720,-5.2),(2705,-4.4),(2740,-6.0),(2630,-4.6)]
scotland = [(2348,-1.5),(2524,-6.5),(2557,-6.2),(2576,-5.2),(2748,-1.0),(2777,-0.7),(2808,-1.3),(2877,1.2),
    (2947,3.8),(3013,4.4),(3024,3.6),(3024,3.1),(2750,-1.7),(2630,-2.6),(2653,-2.9),(2684,-6.0),(2425,-5.5)]
ireland = [(2337,-4.9),(2727,-3.7),(3167,4.3),(3561,-1.6),(2690,-1.2)]
ireland_det = [(2584,7.1),(2742,6.7),(2903,6.2),(2632,-14.3),(2700,-2.0),(3450,-2.9)]
w_green = [(2819,2.7),(2843,1.8),(2854,1.3),(2858,0.4),(2831,-1.1),(2866,-1.5),(2830,0.8),(2845,2.9),
    (2870,3.5),(2880,2.3),(2890,1.2),(2900,0.1),(2910,-0.8),(2925,-1.8),(2940,-0.6),(2950,0.9),(2960,-1.5),
    (2975,-2.4),(2990,-1.1),(3000,-2.7),(3013,-3.7),(3025,-2.2),(3040,-3.1),(3055,-1.6),(3070,-2.5),
    (3080,-0.7),(2974,2.1),(2990,0.4),(3020,1.3),(3040,2.6),(3060,1.5),(2810,0.0),(2800,1.5),(2835,3.6),
    (2860,4.1),(2895,3.0),(2915,1.8),(2935,2.4),(2955,3.1),(2870,-0.5),(2885,-2.2),(2905,-2.9),(2945,-3.0),
    (2980,-3.5),(3005,-0.3),(3030,0.2),(3050,0.5),(2795,-0.8),(2850,-2.6),(2925,0.6),(2965,0.0),(2880,0.7),
    (2820,-2.0),(2830,2.0),(2850,0.1),(2875,1.7),(2895,-0.4),(2915,0.9),(2935,-1.2),(2955,1.8),(2970,-0.6),
    (2985,1.3),(3000,-1.7),(3015,0.6),(3035,-0.8),(3065,-0.2),(3010,-3.0),(2955,-2.3),(2840,-0.4),(2860,2.3),
    (2900,2.5),(2990,2.8),(3060,-3.4),
    (3600,1.2),(3615,0.4),(3630,-0.5),(3645,0.9),(3655,-1.3),(3665,0.1),(3675,-0.7),(3680,1.5),(3690,-1.8),
    (3700,0.3),(3705,-0.9),(3715,1.0),(3720,-1.5),(3730,-0.2),(3740,0.8),(3745,-2.1),(3755,-0.6),(3760,1.6),
    (3770,0.2),(3775,-1.2),(3785,2.2),(3790,0.9),(3800,-0.4),(3805,-1.8),(3815,1.4),(3820,0.0),(3830,-1.0),
    (3835,2.6),(3845,0.7),(3850,-0.3),(3860,1.8),(3865,-1.5),(3875,0.4),(3880,2.9),(3890,-0.6),(3895,1.3),
    (3905,0.1),(3910,2.0),(3920,-0.9),(3930,0.9),(3755,3.4),(3790,3.0),(3830,3.3),(3870,2.4),(3900,2.6),
    (3790,-2.3),(3740,-1.0),(3700,-2.2),(3660,-2.0),(3620,0.0),(3590,-0.3),(3640,1.8),(3690,2.1),(3725,2.8),
    (3760,-1.9),(3850,-2.2),(3810,-2.6),(3870,-0.9),(3940,0.5),(3945,1.5),(3580,0.8),(3610,-1.2),(3635,1.2),
    (3650,-0.3),(3670,1.0),(3685,-1.4),(3695,0.8),(3710,-0.5),(3735,0.5),(3750,-1.5),(3765,1.0),(3780,-0.5),
    (3795,1.6),(3810,0.5),(3825,-1.8),(3840,1.0),(3855,0.2),(3870,1.5),(3885,-1.8),(3900,0.9),(3915,1.2),
    (3925,-0.2),(3780,2.6),(3820,2.0),(3850,2.9),(3760,-2.6),(3720,-2.4),(3700,1.4),(3650,2.4),(3610,2.0),
    (3935,2.2),(3890,3.2),(3800,3.5),(3740,2.0)]
e_green = [(2518,-11.0),(2684,-17.7),(2803,-17.9),(2870,-15.3),(2943,-13.7),(3005,-13.3),(3094,-10.5),
    (3094,-11.4),(3090,-10.6),(3136,-9.9),(3163,-9.4),(3187,-8.7),(3202,-8.0),(3221,-7.4),(3240,-7.2),
    (3244,-8.7),(3287,-6.5),(3302,-9.6),(3376,-8.7),(3180,-9.0),(3150,-8.3),(3200,-9.4),(3115,-10.2)]
s_green_det = [(2306,-11.3),(2371,0.5),(2429,-2.5),(2385,-3.5),(2321,-5.3),(2375,-4.8),(2460,-9.4),(2530,-1.6),
    (2557,-0.2),(2545,-3.3),(2576,-11.2),(2572,-4.2),(2545,-4.9),(2618,-5.5),(2677,-7.2),(2696,-13.9),
    (2715,-9.1),(2750,-9.2),(2819,-9.1),(2819,5.5),(3094,1.5),(3214,8.4),(3090,2.2),(3712,1.1),(3496,-0.3),
    (3480,-2.8),(3561,-1.6),(3465,-3.7),(3364,-8.0),(3461,-6.7),(3565,-6.6),(3411,-2.4),(3403,-3.2),
    (3519,-4.9),(3635,-4.1),(3704,-4.4),(3623,3.9),(3805,3.7),(2700,1.5),(2770,-4.6),(2880,-8.0),(2990,-4.8),
    (3040,-2.8)]

# ---------------- marker styles ----------------
def mk(symbol, fill, size=7, line="#111111", lw=1.0):
    return dict(symbol=symbol, color=fill, size=size, line=dict(color=line, width=lw))

ST = {
    "Gadag granites": mk("diamond", "#7a7a7a", 8, "#7a7a7a", 0),
    "Gadag greywackes (det)": mk("diamond", "#ffffff", 7, "#8c8c8c", 1.3),
    "Aravalli (det)": mk("circle", "#ffffff", 7, "#111111", 1.2),
    "S India granulites": mk("square", "#a6a6a6", 7, "#333333", 1.0),
    "S India anorthosite": mk("square", "#474747", 8, "#474747", 0),
    "S India felsic volcs": mk("square", "#ffffff", 7, "#8c8c8c", 1.3),
    "E Salem granitoids, EDC": mk("x-thin-open", "#111111", 9, "#111111", 1.6),
    "MNK": mk("circle", "#454545", 8),
    "BN": mk("circle", "#c4c4c4", 8),
    "BN (det)": mk("circle", "#ffffff", 6),
    "GAB": mk("circle", "#6a6a6a", 8),
    "NK-SMZ": mk("circle", "#111111", 8),
    "LIM": mk("diamond", "#b0b0b0", 8),
    "LIM (det)": mk("diamond", "#ffffff", 7),
    "BS": mk("triangle-up", "#555555", 9, "#555555", 0),
    "FRAN": mk("x-thin-open", "#111111", 9, "#111111", 1.5),
    "JH": mk("square", "#3d3d3d", 7),
    "Pilbara": mk("square", "#7d7d7d", 7),
    "Yilgarn": mk("square", "#c8c8c8", 7),
    "N Australia": mk("square", "#ffffff", 7),
    "N China": mk("circle", "#c3c3c3", 10.5, "#c3c3c3", 0),
    "S China": mk("circle", "#7d7d7d", 7),
    "S China (det)": mk("circle", "#ffffff", 7),
    "Antarctica": mk("triangle-up", "#7d7d7d", 7),
    "Slave": mk("square", "#8c8c8c", 7),
    "Acasta": mk("square", "#4a4a4a", 7),
    "Labrador": mk("square", "#ffffff", 7),
    "Superior": mk("square", "#c8c8c8", 8, "#333333", 1.0),
    "Sweden": mk("triangle-up", "#c8c8c8", 7),
    "Norway": mk("triangle-up", "#7d7d7d", 7),
    "Finland": mk("triangle-up", "#111111", 8),
    "Karelian": mk("triangle-up", "#111111", 9),
    "Scotland": mk("circle", "#7d7d7d", 7),
    "Ireland": mk("circle", "#c8c8c8", 6),
    "Ireland (det)": mk("circle", "#ffffff", 6),
    "W Green": mk("diamond", "#b8b8b8", 8),
    "E Green": mk("diamond", "#6e6e6e", 7),
    "S Green (det)": mk("diamond", "#ffffff", 7),
    "SRG-2": mk("circle", "#ffffff", 16, "#111111", 2.4),
    "CH3": mk("square", "#ffffff", 16, "#111111", 2.4),
    "GLCH-1": mk("triangle-up", "#ffffff", 18, "#111111", 2.4),
}

SERIES = {
    "a": [("S India anorthosite", s_india_anorthosite), ("S India felsic volcs", s_india_felsic),
          ("Gadag greywackes (det)", gadag_greywackes), ("Gadag granites", gadag_granites),
          ("S India granulites", s_india_granulites), ("Aravalli (det)", aravalli),
          ("E Salem granitoids, EDC", e_salem)],
    "b": [("LIM (det)", lim_det), ("BS", bs), ("LIM", lim), ("BN (det)", bn_det), ("GAB", gab),
          ("BN", bn), ("MNK", mnk), ("NK-SMZ", nk_smz), ("FRAN", fran)],
    "c": [("N China", n_china), ("N Australia", n_australia), ("Yilgarn", yilgarn), ("Pilbara", pilbara),
          ("JH", jh), ("S China (det)", s_china_det), ("S China", s_china), ("Antarctica", antarctica)],
    "d": [("S Green (det)", s_green_det), ("E Green", e_green), ("W Green", w_green), ("Labrador", labrador),
          ("Acasta", acasta), ("Slave", slave), ("Superior", superior), ("Scotland", scotland),
          ("Ireland", ireland), ("Ireland (det)", ireland_det), ("Sweden", sweden), ("Norway", norway),
          ("Finland", finland), ("Karelian", karelian)],
}

# ---------------- layout geometry (pixels) ----------------
PANEL_AX = {"a": ("x", "y"), "c": ("x2", "y2"), "b": ("x3", "y3"), "d": ("x4", "y4")}
PANEL_PX = {"a": (85.0, 840.7, 28.3, 465.0), "c": (873.3, 1629.0, 28.3, 465.0),
            "b": (85.0, 840.7, 493.3, 928.5), "d": (873.3, 1629.0, 493.3, 928.5)}
TITLES = {"a": ("(a) India", 839, 27), "b": ("(b) Kalahari", 838, 494),
          "c": ("(c) China, Australia &amp; Antarctica", 1628, 27), "d": ("(d) N Atlantic &amp; Baltica", 1628, 493)}
LINE_LABELS = {
    "a": {"2.8 Ga": (2902, 8.13), "3.3 Ga": (3466, 6.96), "3.7 Ga": (3817, 5.04), "4.2 Ga": (3686, -2.94)},
    "b": {"2.8 Ga": (2888, 8.04), "3.3 Ga": (3466, 6.47), "3.7 Ga": (3817, 4.6), "4.2 Ga": (3768, -4.37)},
    "c": {"2.8 Ga": (2905, 8.16), "3.3 Ga": (3468, 7.03), "3.7 Ga": (3889, 5.68), "4.2 Ga": (3885, -2.78)},
    "d": {"2.8 Ga": (2906, 8.32), "3.3 Ga": (3470, 6.33), "3.7 Ga": (3819, 4.56), "4.2 Ga": (3470, -8.04)},
}
DM_LABEL_X = {"a": 2258, "b": 2258, "c": 2243, "d": 2243}
CHUR_LABEL_X = {"a": 3873, "b": 3789, "c": 3888, "d": 3770}
LEGENDS = {
    "a": [("Gadag granites", 575, 585, 306.0), ("Gadag greywackes (det)", 575, 585, 330.0),
          ("Aravalli (det)", 575, 585, 354.0), ("S India granulites", 575, 585, 378.0),
          ("S India anorthosite", 575, 585, 402.0), ("S India felsic volcs", 575, 585, 426.0),
          ("E Salem granitoids, EDC", 575, 585, 450.0)],
    "b": [("MNK", 705, 718, 803.0), ("BN", 667, 678, 830.0), ("GAB", 667, 678, 858.3), ("LIM", 667, 678, 886.7),
          ("BS", 667, 678, 915.0), ("BN (det)", 737, 748, 830.0), ("NK-SMZ", 737, 748, 858.3),
          ("LIM (det)", 737, 748, 886.7), ("FRAN", 737, 748, 915.0)],
    "c": [("JH", 1370, 1384, 400.0), ("Pilbara", 1370, 1384, 425.0), ("Yilgarn", 1370, 1384, 450.0),
          ("N Australia", 1480, 1492, 351.7), ("N China", 1480, 1492, 376.7), ("S China", 1480, 1492, 400.0),
          ("S China (det)", 1480, 1492, 425.0), ("Antarctica", 1480, 1492, 450.0)],
    "d": [("Slave", 1257, 1268, 830.0), ("Acasta", 1257, 1268, 858.3), ("Labrador", 1257, 1268, 886.7),
          ("Superior", 1257, 1268, 915.0), ("Sweden", 1370, 1381, 830.0), ("Norway", 1370, 1381, 858.3),
          ("Finland", 1370, 1381, 886.7), ("Karelian", 1370, 1381, 915.0), ("Scotland", 1477, 1489, 775.0),
          ("Ireland", 1477, 1489, 803.3), ("Ireland (det)", 1477, 1489, 831.7), ("W Green", 1477, 1489, 860.0),
          ("E Green", 1477, 1489, 886.7), ("S Green (det)", 1477, 1489, 915.0)],
}
STD_KEYS = [("SRG-2", 365, 427, 452), ("CH3", 437, 427, 452), ("GLCH-1", 514, 427, 452)]
TXT = 22.5


def px2data(p, px, py):
    l, r, t, b = PANEL_PX[p]
    x = X_RANGE[0] + (px - l) / (r - l) * (X_RANGE[1] - X_RANGE[0])
    y = Y_RANGE[1] - (py - t) / (b - t) * (Y_RANGE[1] - Y_RANGE[0])
    return x, y


def xy(pts):
    return [p[0] for p in pts], [p[1] for p in pts]


fig = go.Figure()
ann = []


def add_pts(p, pts, style, name=""):
    xa, ya = PANEL_AX[p]
    xs, ys = xy(pts)
    fig.add_trace(go.Scatter(x=xs, y=ys, mode="markers", marker=style, xaxis=xa, yaxis=ya,
                             name=name, showlegend=False, hoverinfo="skip", cliponaxis=True))


def add_line(p, pts, color, width, dash="solid"):
    xa, ya = PANEL_AX[p]
    xs, ys = xy(pts)
    fig.add_trace(go.Scatter(x=xs, y=ys, mode="lines", line=dict(color=color, width=width, dash=dash),
                             xaxis=xa, yaxis=ya, showlegend=False, hoverinfo="skip"))


def text(x, y, t, size=TXT, xref="paper", yref="paper", xanchor="center", yanchor="middle",
         angle=0, color="#1a1a1a", family=FONT, bg=None):
    d = dict(x=x, y=y, xref=xref, yref=yref, text=t, showarrow=False, xanchor=xanchor, yanchor=yanchor,
             textangle=angle, font=dict(family=family, size=size, color=color))
    if bg:
        d["bgcolor"] = bg
        d["borderpad"] = 1
    ann.append(d)


DASH = "18px,10px"
for p in ["a", "c", "b", "d"]:
    xa, ya = PANEL_AX[p]
    add_line(p, low_luhf_line, "#b3b3b3", 2.6, DASH)
    for nm, seg in crust_lines.items():
        add_line(p, seg, "#4a4a4a", 2.6, DASH)
    add_line(p, chur_line, "#262626", 3.4)
    add_line(p, dm_line, "#262626", 3.4)
    if p == "d":
        fig.add_trace(go.Scatter(x=[CHUR_LABEL_X[p]], y=[0], mode="text", text=["CHUR"],
                                 textfont=dict(family=FONT, size=23, color="#404040"),
                                 xaxis=xa, yaxis=ya, showlegend=False, hoverinfo="skip"))
    for nm, pts in SERIES[p]:
        add_pts(p, pts, ST[nm], nm)
    add_pts(p, model_age_marks, dict(symbol="asterisk-open", size=13, color="#262626",
                                     line=dict(color="#262626", width=2.6)))
    add_pts(p, glch1, ST["GLCH-1"], "GLCH-1")
    add_pts(p, ch3, ST["CH3"], "CH3")
    add_pts(p, srg2, ST["SRG-2"], "SRG-2")

    text(DM_LABEL_X[p], dm_line[0][1], "DM", 22, xa, ya, "left", "middle", color="#262626", bg="white")
    if p != "d":
        text(CHUR_LABEL_X[p], 0, "CHUR", 23, xa, ya, color="#262626", bg="white")
    for nm, (lx, ly) in LINE_LABELS[p].items():
        text(lx, ly, nm, 23, xa, ya, angle=(-23 if nm == "4.2 Ga" else -18), color="#333333")
    t, tx, ty = TITLES[p]
    text(tx / W, 1 - ty / H, "<b>" + t + "</b>", 29, xanchor="right")
    for label, mx, tx_, ry in LEGENDS[p]:
        lx, ly = px2data(p, mx, ry)
        st = dict(ST[label])
        st["size"] = min(st["size"], 8)
        add_pts(p, [(lx, ly)], st)
        text(tx_ / W, 1 - ry / H, label, TXT, xanchor="left")

for label, kx, ty, my in STD_KEYS:
    text(kx / W, 1 - ty / H, label, TXT)
    lx, ly = px2data("a", kx, my)
    add_pts("a", [(lx, ly)], ST[label])
text(2750, -14.3, "<sup>176</sup>Lu/<sup>177</sup>Hf=0.015", 23, "x", "y", angle=-23, color="#262626")
text(2398, -15.9, "=0.005", 23, "x", "y", angle=-33, color="#a8a8a8")

for xa, pos in [("x3", x_label_pos_b), ("x4", x_label_pos_d)]:
    for v, t in zip(pos, x_tick_text):
        text(v, 1 - 952 / H, t, 22, xa, "paper", family=NARROW)

text(31 / W, 1 - 479 / H, "<b>εHf</b>", 23, angle=-90)
for cx in [484, 1244]:
    text(cx / W, 1 - 994 / H, "<b>U–Pb age (Ma)</b>", 21.5)

layout = dict(width=W, height=H, margin=dict(l=0, r=0, t=0, b=0, pad=0, autoexpand=False),
              plot_bgcolor="white", paper_bgcolor="white", showlegend=False, annotations=ann,
              font=dict(family=FONT), template="none")
for p, (xa, ya) in PANEL_AX.items():
    l, r, t, b = PANEL_PX[p]
    xk = "xaxis" + xa[1:]
    yk = "yaxis" + ya[1:]
    layout[xk] = dict(domain=[l / W, r / W], range=X_RANGE, anchor=ya, tickvals=x_tick_vals,
                      showticklabels=False, ticks="outside", ticklen=6, tickwidth=2.2, tickcolor=INK,
                      showline=True, linewidth=3, linecolor=INK, showgrid=False, zeroline=False,
                      fixedrange=True, automargin=False)
    layout[yk] = dict(domain=[1 - b / H, 1 - t / H], range=Y_RANGE, anchor=xa, tickvals=y_tick_vals,
                      ticktext=y_tick_text, showticklabels=(p in ("a", "b")), ticks="outside", ticklen=6,
                      tickwidth=2.2, tickcolor=INK, showline=True, linewidth=3, linecolor=INK,
                      showgrid=False, zeroline=False, fixedrange=True, automargin=False,
                      tickfont=dict(family=FONT, size=24.5, color=INK))
fig.update_layout(**layout)
fig.write_html("out.html", config={"responsive": False, "displayModeBar": False},
               post_script="document.body.style.margin='0px';")
